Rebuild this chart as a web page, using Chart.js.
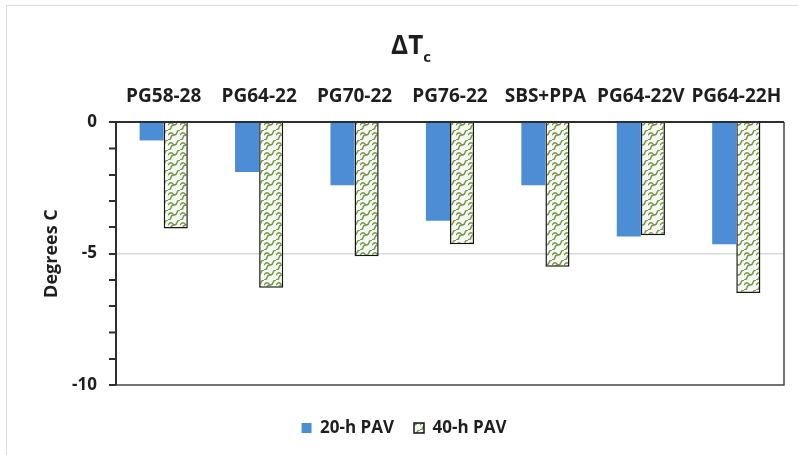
<!DOCTYPE html>
<html>
<head>
<meta charset="utf-8">
<script src="https://cdn.jsdelivr.net/npm/chart.js@4"></script>
<style>
  html, body { margin: 0; padding: 0; background: #fff; }
  #wrap { position: relative; width: 798px; height: 455px; overflow: hidden; }
  #frame { position: absolute; left: 6px; top: 5px; width: 830px; height: 500px;
           border: 1.5px solid #dcdcdc; box-sizing: border-box; }
  canvas { position: absolute; left: 0; top: 0; }
</style>
</head>
<body>
<div id="wrap">
  <div id="frame"></div>
  <canvas id="chart" width="798" height="455"></canvas>
</div>
<script>
// Binder grades and the change in critical temperature after each ageing time
const categories = ['PG58-28', 'PG64-22', 'PG70-22', 'PG76-22', 'SBS+PPA', 'PG64-22V', 'PG64-22H'];
const pav20 = [-0.7, -1.9, -2.4, -3.75, -2.4, -4.35, -4.65];
const pav40 = [-4.05, -6.3, -5.1, -4.65, -5.5, -4.3, -6.5];
const seriesNames = ['20-h PAV', '40-h PAV'];
const yMin = -10;
const yMax = 0;
const labelledStep = 5;

const FONT = '"Open Sans", "Liberation Sans", sans-serif';
const TEXT = '#1e1e1e';

// Wavy "shingle" fill for the 40-h bars
function shinglePattern() {
  const w = 12, h = 10;
  const t = document.createElement('canvas');
  t.width = w; t.height = h;
  const g = t.getContext('2d');
  g.fillStyle = '#f6f9f1';
  g.fillRect(0, 0, w, h);
  g.strokeStyle = '#76924a';
  g.lineWidth = 1.3;
  g.lineCap = 'round';
  // rising S-curve, continues into the tile above-right
  g.beginPath();
  g.moveTo(0, h);
  g.bezierCurveTo(5, h, 1, h / 2, 6, h / 2);
  g.bezierCurveTo(11, h / 2, 7, 0, w, 0);
  g.stroke();
  // bulging link between neighbouring S-curves
  g.beginPath();
  g.moveTo(0, h / 2);
  g.quadraticCurveTo(3, 0.5, 6, h / 2);
  g.stroke();
  return document.getElementById('chart').getContext('2d').createPattern(t, 'repeat');
}

// Title ΔTc with a subscript
const deltaTitle = {
  id: 'deltaTitle',
  afterDraw(chart) {
    const ctx = chart.ctx;
    ctx.save();
    ctx.fillStyle = TEXT;
    ctx.textBaseline = 'alphabetic';
    ctx.textAlign = 'left';
    const mainFont = 'bold 26px ' + FONT;
    const subFont = 'bold 15px ' + FONT;
    ctx.font = mainFont;
    const mw = ctx.measureText('ΔT').width;
    ctx.font = subFont;
    const sw = ctx.measureText('c').width;
    const x0 = 411 - (mw + sw) / 2;
    ctx.font = mainFont;
    ctx.fillText('ΔT', x0, 54);
    ctx.font = subFont;
    ctx.fillText('c', x0 + mw, 62);
    ctx.restore();
  }
};

// Box around the plot area, with outward tick marks at every y tick
const plotFrame = {
  id: 'plotFrame',
  afterDatasetsDraw(chart) {
    const { ctx, chartArea: a } = chart;
    const yScale = chart.scales.y;
    ctx.save();
    ctx.strokeStyle = '#2e2e2e';
    ctx.lineWidth = 1.5;
    ctx.beginPath();
    yScale.ticks.forEach((t) => {
      const py = Math.round(yScale.getPixelForValue(t.value)) + 0.25;
      ctx.moveTo(a.left - 7, py);
      ctx.lineTo(a.left, py);
    });
    ctx.stroke();
    ctx.strokeStyle = '#474747';
    ctx.lineWidth = 1.5;
    ctx.beginPath();
    ctx.moveTo(a.right, a.top);
    ctx.lineTo(a.right, a.bottom);
    ctx.lineTo(a.left, a.bottom);
    ctx.stroke();
    ctx.strokeStyle = '#2e2e2e';
    ctx.lineWidth = 2;
    ctx.beginPath();
    ctx.moveTo(a.left, a.bottom);
    ctx.lineTo(a.left, a.top);
    ctx.lineTo(a.right, a.top);
    ctx.stroke();
    ctx.restore();
  }
};

new Chart(document.getElementById('chart'), {
  type: 'bar',
  data: {
    labels: categories,
    datasets: [
      {
        label: seriesNames[0],
        data: pav20,
        backgroundColor: '#4d8dd6',
        borderWidth: 0,
        barPercentage: 1,
        categoryPercentage: 0.505
      },
      {
        label: seriesNames[1],
        data: pav40,
        backgroundColor: shinglePattern(),
        borderColor: '#151515',
        borderWidth: 1.5,
        barPercentage: 1,
        categoryPercentage: 0.505
      }
    ]
  },
  options: {
    responsive: false,
    animation: false,
    layout: { padding: { left: 24, right: 14, top: 84, bottom: 8.5 } },
    plugins: {
      tooltip: { enabled: false },
      title: { display: false },
      legend: {
        position: 'bottom',
        title: { display: true, text: ' ', font: { size: 1 }, padding: 6.6 },
        labels: {
          font: { family: FONT, size: 17, weight: 'bold' },
          color: TEXT,
          boxWidth: 10,
          boxHeight: 10,
          padding: 20
        }
      }
    },
    scales: {
      x: {
        position: 'top',
        grid: { display: false, drawTicks: false },
        border: { display: false },
        ticks: {
          font: { family: FONT, size: 19, weight: 'bold' },
          color: TEXT,
          padding: 14,
          maxRotation: 0,
          autoSkip: false
        },
        afterFit(s) { s.height = 38; }
      },
      y: {
        min: yMin,
        max: yMax,
        border: { display: false },
        grid: {
          color: (c) => (c.tick && c.tick.value === -5 ? '#d9d9d9' : 'rgba(0,0,0,0)'),
          lineWidth: 1.5,
          tickColor: '#2e2e2e',
          tickLength: 7,
          tickWidth: 1.5
        },
        ticks: {
          stepSize: 1,
          autoSkip: false,
          callback: (v) => (v % labelledStep === 0 ? String(v) : ''),
          font: { family: FONT, size: 17, weight: 'bold' },
          color: TEXT,
          padding: 12
        },
        title: {
          display: true,
          text: 'Degrees C',
          font: { family: FONT, size: 18, weight: 'bold' },
          color: TEXT,
          padding: { top: 17, bottom: 0 }
        },
        afterFit(s) { s.width = 92; }
      }
    }
  },
  plugins: [deltaTitle, plotFrame]
});
</script>
</body>
</html>
